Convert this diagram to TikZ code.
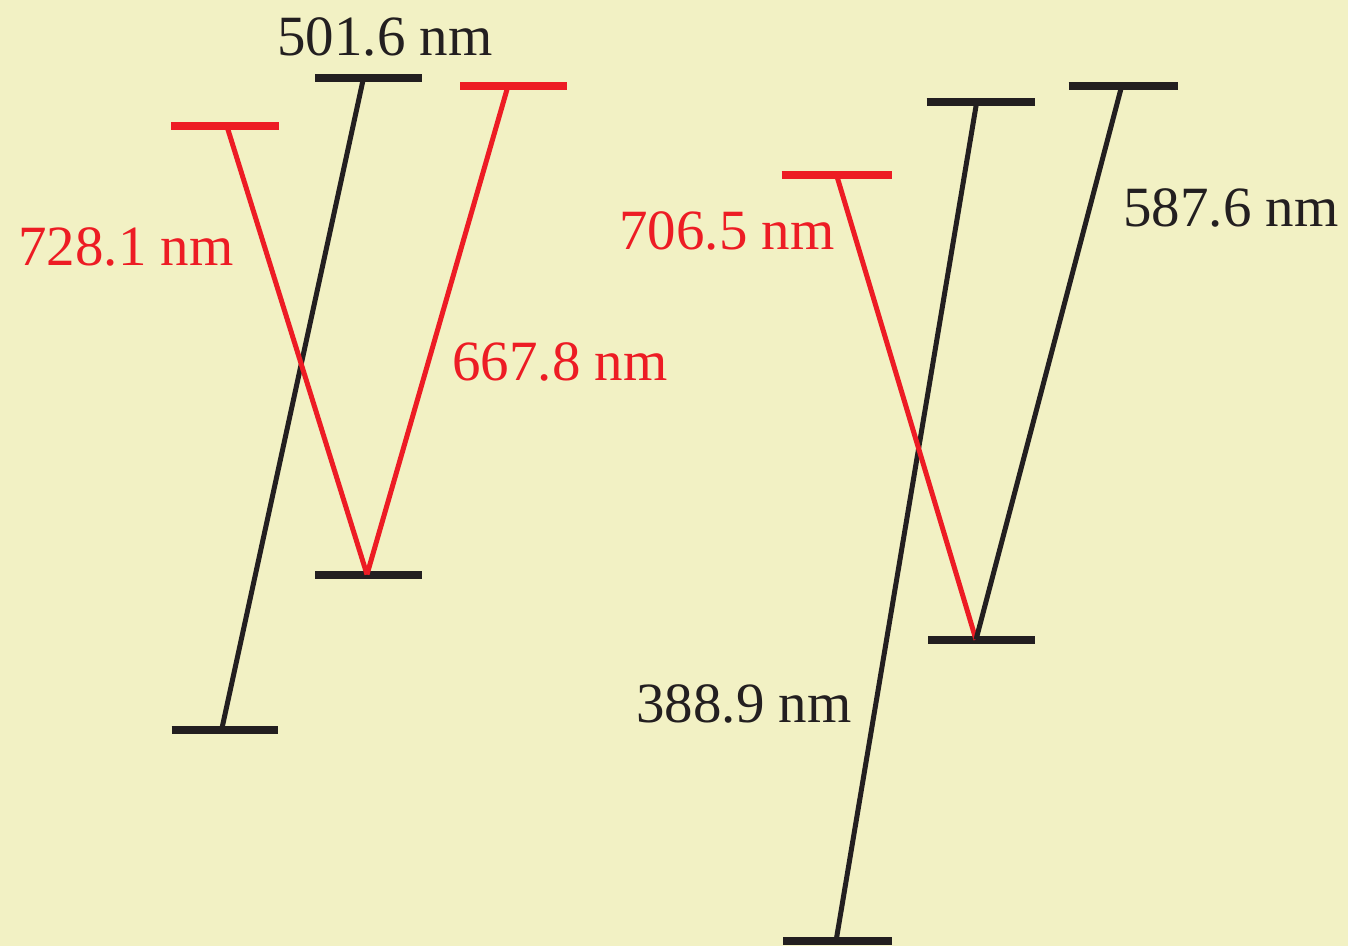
\documentclass[tikz,border=0pt]{standalone}
\usepackage{fontspec}
\setmainfont{Liberation Serif}
\usetikzlibrary{positioning}
\definecolor{cred}{HTML}{ED1C24}
\definecolor{cblack}{HTML}{231F20}
\definecolor{cpaper}{HTML}{F2F1C4}
\tikzset{
  every picture/.style={font=\fontsize{16.2}{19}\selectfont},
  level/.style={draw=#1, line width=0.08cm},
  level/.default=cblack,
  trans/.style={draw=#1, line width=0.05cm},
  trans/.default=cblack,
  wl/.style={text=#1, inner sep=0pt},
  wl/.default=cblack,
}
\begin{document}
\begin{tikzpicture}
  \fill[cpaper] (0,0) rectangle (13.48,9.46);
  \useasboundingbox (0,0) rectangle (13.48,9.46);
  % left scheme
  \coordinate (l1) at (2.27,8.195);
  \coordinate (l2) at (3.635,8.68);
  \coordinate (l3) at (5.08,8.60);
  \coordinate (l4) at (3.67,3.715);
  \coordinate (l5) at (2.217,2.165);
  \draw[level=cred] (l1) +(-0.56,0) -- +(0.52,0);
  \draw[level]      (l2) +(-0.485,0) -- +(0.585,0);
  \draw[level=cred] (l3) +(-0.48,0) -- +(0.59,0);
  \draw[level]      (l4) +(-0.52,0) -- +(0.55,0);
  \draw[level]      (l5) +(-0.50,0) -- +(0.56,0);
  \draw[trans]      (l5) -- (l2);
  \draw[trans=cred] (l1) -- (l4);
  \draw[trans=cred] (l4) -- (l3);
  \node[wl]      (w5016) at (3.85,9.09) {501.6 nm};
  \node[wl=cred] (w7281) at (1.26,6.99) {728.1 nm};
  \node[wl=cred] (w6678) at (5.60,5.84) {667.8 nm};
  % right scheme
  \coordinate (r1) at (9.767,8.44);
  \coordinate (r2) at (11.217,8.60);
  \coordinate (r3) at (8.367,7.705);
  \coordinate (r4) at (9.76,3.063);
  \coordinate (r5) at (8.36,0.047);
  \draw[level]      (r1) +(-0.50,0) -- +(0.58,0);
  \draw[level]      (r2) +(-0.53,0) -- +(0.56,0);
  \draw[level=cred] (r3) +(-0.55,0) -- +(0.55,0);
  \draw[level]      (r4) +(-0.48,0) -- +(0.59,0);
  \draw[level]      (r5) +(-0.53,0) -- +(0.56,0);
  \draw[trans]      (r5) -- (r1);
  \draw[trans=cred] (r3) -- (r4);
  \draw[trans]      (r4) -- (r2);
  \node[wl=cred] (w7065) at (7.27,7.15) {706.5 nm};
  \node[wl]      (w5876) at (12.31,7.38) {587.6 nm};
  \node[wl]      (w3889) at (7.44,2.42) {388.9 nm};
\end{tikzpicture}
\end{document}
